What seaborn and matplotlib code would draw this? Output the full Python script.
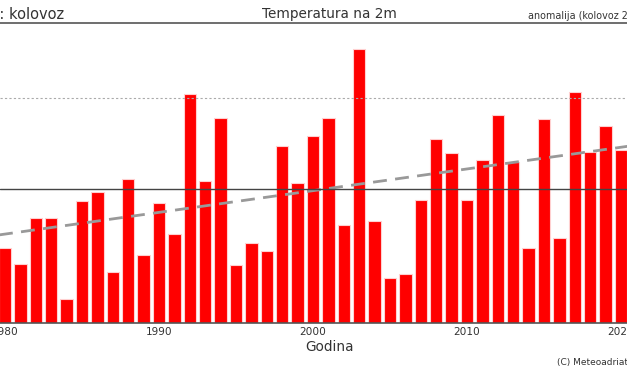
import numpy as np
import pandas as pd
import seaborn as sns
import matplotlib.pyplot as plt

sns.set_theme(style="white")

# godine i srednja temperatura (kolovoz), ocitano sa slike
godine = list(range(1980, 2021))
temperatura = [21.35, 21.18, 21.68, 21.68, 20.79, 21.87, 21.97, 21.09, 22.11, 21.27,
               21.84, 21.50, 23.04, 22.09, 22.78, 21.16, 21.41, 21.32, 22.47, 22.07,
               22.58, 22.78, 21.60, 23.54, 21.65, 21.02, 21.07, 21.88, 22.55, 22.39,
               21.88, 22.32, 22.81, 22.30, 21.35, 22.77, 21.46, 23.07, 22.41, 22.69,
               22.43]
prosjek = 22.0
granica = 23.0

df = pd.DataFrame({"godina": godine, "temp": temperatura})

fig = plt.figure(figsize=(6.27, 3.76), dpi=100)
ax = fig.add_axes([0, 0.141, 1, 0.798])

sns.barplot(data=df, x="godina", y="temp", native_scale=True, width=0.8,
            color="#ff0000", saturation=1, edgecolor="#ffd0d0", linewidth=0.8,
            ax=ax)
ax.set_ylim(20.527, 23.824)
ax.set_xlim(1979.675, 2020.39)

# trend
k, b = np.polyfit(godine, temperatura, 1)
xs = np.array([1979, 2021])
ax.plot(xs, k * xs + b, ls="--", color="#999999", lw=2, dashes=(5, 3))

ax.axhline(prosjek, color="#444444", lw=1)
ax.axhline(granica, color="#aaaaaa", lw=0.8, ls=(0, (2, 2)))

for s in ["left", "right"]:
    ax.spines[s].set_visible(False)
ax.spines["top"].set_color("#555555")
ax.spines["bottom"].set_color("#555555")
ax.spines["top"].set_linewidth(1.2)
ax.spines["bottom"].set_linewidth(1.2)

ax.set_xticks([1980, 1990, 2000, 2010, 2020])
ax.set_xticklabels(["1980", "1990", "2000", "2010", "2020"], fontsize=7.6, color="#333333")
ax.tick_params(axis="x", length=0, pad=3)
ax.set_yticks([])
ax.set_ylabel("")
ax.set_xlabel("")

fig.text(0.525, 0.077, "Godina", ha="center", va="center", fontsize=9.8, color="#333333")
fig.text(0.525, 0.963, "Temperatura na 2m", ha="center", va="center", fontsize=9.8, color="#333333")
fig.text(-0.082, 0.962, "Mjesec: kolovoz", ha="left", va="center", fontsize=10.5, color="#333333")
fig.text(0.842, 0.958, "anomalija (kolovoz 2020)", ha="left", va="center", fontsize=6.9, color="#333333")
fig.text(0.888, 0.035, "(C) Meteoadriatic", ha="left", va="center", fontsize=6.5, color="#333333")

fig.savefig("out.png", dpi=100)
